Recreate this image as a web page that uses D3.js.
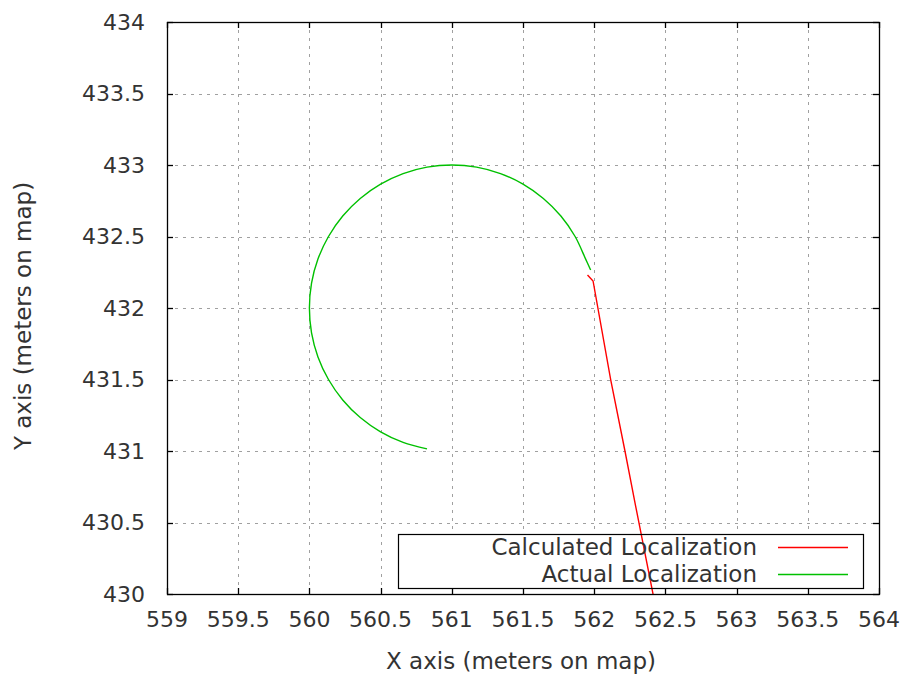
<!DOCTYPE html>
<html>
<head>
<meta charset="utf-8">
<script src="https://cdn.jsdelivr.net/npm/d3@7/dist/d3.min.js"></script>
<style>
  html, body { margin: 0; padding: 0; background: #fff; }
  svg { display: block; }
  text { font-family: "DejaVu Sans", sans-serif; fill: #333; }
</style>
</head>
<body>
<svg id="chart" width="907" height="677"></svg>
<script>
// Tick values for both axes
const xTicks = [559, 559.5, 560, 560.5, 561, 561.5, 562, 562.5, 563, 563.5, 564];
const yTicks = [430, 430.5, 431, 431.5, 432, 432.5, 433, 433.5, 434];

// Calculated localization track (x, y in map metres)
const calcX = [561.953, 561.992, 562.116, 562.216, 562.291, 562.413, 562.441];
const calcY = [432.231, 432.189, 431.497, 431.000, 430.615, 430.000, 429.860];

// Actual localization track (x, y in map metres)
const actualX = [560.826, 560.658, 560.500, 560.357, 560.234, 560.134, 560.060, 560.015, 560.000,
                 560.015, 560.060, 560.134, 560.234, 560.357, 560.500, 560.658, 560.826, 561.000,
                 561.174, 561.342, 561.500, 561.643, 561.766, 561.866, 561.940, 561.975];
const actualY = [431.015, 431.060, 431.134, 431.234, 431.357, 431.500, 431.658, 431.826, 432.000,
                 432.174, 432.342, 432.500, 432.643, 432.766, 432.866, 432.940, 432.985, 433.000,
                 432.985, 432.940, 432.866, 432.766, 432.643, 432.500, 432.342, 432.266];

const seriesNames = ["Calculated Localization", "Actual Localization"];
const seriesColors = ["#ff0000", "#00c000"];

const svg = d3.select("#chart");
const plot = { left: 167, right: 879, top: 22, bottom: 594 };

const x = d3.scaleLinear().domain([559, 564]).range([plot.left, plot.right]);
const y = d3.scaleLinear().domain([430, 434]).range([plot.bottom, plot.top]);

svg.append("defs").append("clipPath").attr("id", "plotClip")
  .append("rect")
  .attr("x", plot.left).attr("y", plot.top)
  .attr("width", plot.right - plot.left).attr("height", plot.bottom - plot.top);

// Dotted grid
const grid = svg.append("g").attr("stroke", "#a0a0a0").attr("stroke-width", 1)
  .attr("stroke-dasharray", "3,5");
grid.selectAll("line.gx").data(xTicks.slice(1, -1)).join("line")
  .attr("x1", d => Math.round(x(d)) + 0.5).attr("x2", d => Math.round(x(d)) + 0.5)
  .attr("y1", plot.top).attr("y2", plot.bottom);
grid.selectAll("line.gy").data(yTicks.slice(1, -1)).join("line")
  .attr("y1", d => Math.round(y(d)) + 0.5).attr("y2", d => Math.round(y(d)) + 0.5)
  .attr("x1", plot.left).attr("x2", plot.right);

// Key box (filled, so the grid does not show through)
const key = { left: 398, right: 863, top: 534, bottom: 588 };
svg.append("rect")
  .attr("x", key.left + 0.5).attr("y", key.top + 0.5)
  .attr("width", key.right - key.left).attr("height", key.bottom - key.top)
  .attr("fill", "#fff");

// Data lines
const line = d3.line().x(d => x(d[0])).y(d => y(d[1]));
const smooth = d3.line().x(d => x(d[0])).y(d => y(d[1])).curve(d3.curveCatmullRom);
const dataG = svg.append("g").attr("clip-path", "url(#plotClip)").attr("fill", "none")
  .attr("stroke-width", 1.4);
dataG.append("path")
  .attr("d", line(d3.zip(calcX, calcY)))
  .attr("stroke", seriesColors[0]);
dataG.append("path")
  .attr("d", smooth(d3.zip(actualX, actualY)))
  .attr("stroke", seriesColors[1]);

// Key border, labels and samples
svg.append("rect")
  .attr("x", key.left + 0.5).attr("y", key.top + 0.5)
  .attr("width", key.right - key.left).attr("height", key.bottom - key.top)
  .attr("fill", "none").attr("stroke", "#000").attr("stroke-width", 1.2);
const keyRows = [547, 574];
seriesNames.forEach((name, i) => {
  svg.append("text")
    .attr("x", 757).attr("y", keyRows[i])
    .attr("text-anchor", "end").attr("dominant-baseline", "central")
    .style("font-size", "23px")
    .text(name);
  svg.append("line")
    .attr("x1", 778).attr("x2", 848)
    .attr("y1", keyRows[i] + 0.5).attr("y2", keyRows[i] + 0.5)
    .attr("stroke", seriesColors[i]).attr("stroke-width", 1.4);
});

// Frame
svg.append("rect")
  .attr("x", plot.left + 0.5).attr("y", plot.top + 0.5)
  .attr("width", plot.right - plot.left).attr("height", plot.bottom - plot.top)
  .attr("fill", "none").attr("stroke", "#000").attr("stroke-width", 1.3);

// Inward ticks on all four sides
const tickLen = 6;
const ticks = svg.append("g").attr("stroke", "#000").attr("stroke-width", 1.3);
xTicks.forEach(d => {
  const px = Math.round(x(d)) + 0.5;
  ticks.append("line").attr("x1", px).attr("x2", px).attr("y1", plot.bottom).attr("y2", plot.bottom - tickLen);
  ticks.append("line").attr("x1", px).attr("x2", px).attr("y1", plot.top).attr("y2", plot.top + tickLen);
});
yTicks.forEach(d => {
  const py = Math.round(y(d)) + 0.5;
  ticks.append("line").attr("y1", py).attr("y2", py).attr("x1", plot.left).attr("x2", plot.left + tickLen);
  ticks.append("line").attr("y1", py).attr("y2", py).attr("x1", plot.right).attr("x2", plot.right - tickLen);
});

// Tick labels
svg.append("g").selectAll("text").data(xTicks).join("text")
  .attr("x", d => x(d)).attr("y", 619)
  .attr("text-anchor", "middle").attr("dominant-baseline", "central")
  .style("font-size", "22px")
  .text(d => d3.format("")(d));
svg.append("g").selectAll("text").data(yTicks).join("text")
  .attr("x", 145).attr("y", d => y(d))
  .attr("text-anchor", "end").attr("dominant-baseline", "central")
  .style("font-size", "22px")
  .text(d => d3.format("")(d));

// Axis titles
svg.append("text")
  .attr("x", 521).attr("y", 661)
  .attr("text-anchor", "middle").attr("dominant-baseline", "central")
  .style("font-size", "23px")
  .text("X axis (meters on map)");
svg.append("text")
  .attr("transform", "translate(23,316) rotate(-90)")
  .attr("text-anchor", "middle").attr("dominant-baseline", "central")
  .style("font-size", "23px")
  .text("Y axis (meters on map)");
</script>
</body>
</html>
